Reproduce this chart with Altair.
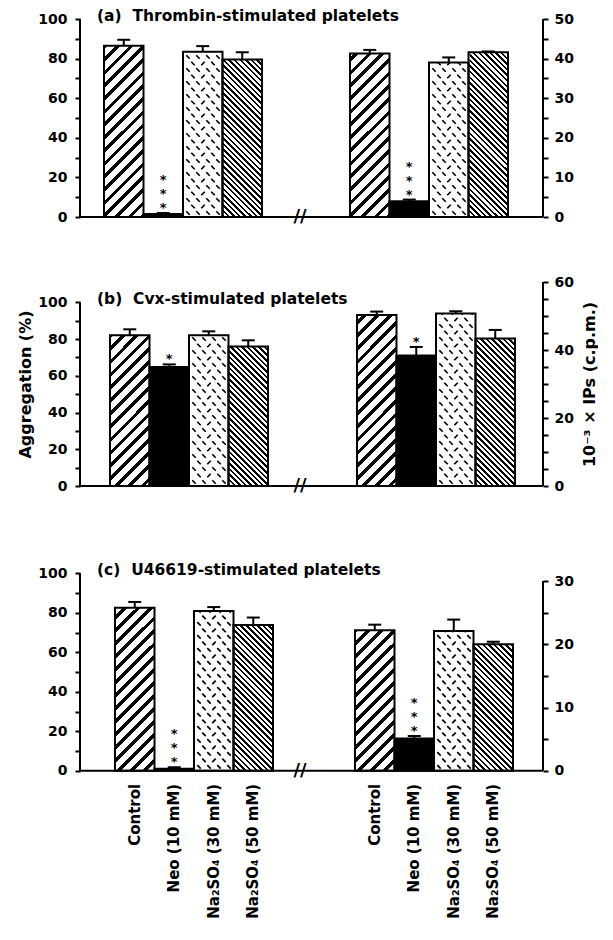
import altair as alt
import pandas as pd

# ---------------- data ----------------
CONDITIONS = ["Control", "Neo (10 mM)", "Na\u2082SO\u2084 (30 mM)", "Na\u2082SO\u2084 (50 mM)"]
PANEL_TITLES = [
    "(a)\u00a0\u00a0Thrombin-stimulated platelets",
    "(b)\u00a0\u00a0Cvx-stimulated platelets",
    "(c)\u00a0\u00a0U46619-stimulated platelets",
]
LEFT_TITLE = "Aggregation (%)"
RIGHT_TITLE = "10\u207b\u00b3 \u00d7 IPs (c.p.m.)"

# aggregation (%) - left group of each panel
AGG_MEAN = [[86.5, 1.5, 83.4, 79.5], [82.0, 64.8, 82.0, 75.9], [82.6, 1.1, 80.9, 73.8]]
AGG_SEM = [[3.0, 0.5, 2.9, 3.7], [3.3, 1.4, 2.2, 3.4], [2.9, 0.7, 2.0, 3.8]]
AGG_SIG = [["", "***", "", ""], ["", "*", "", ""], ["", "***", "", ""]]
# 10^-3 x IPs (c.p.m.) - right group of each panel
IPS_MEAN = [[41.3, 4.0, 39.0, 41.6], [50.3, 38.4, 50.7, 43.4], [22.2, 5.1, 22.1, 20.0]]
IPS_SEM = [[0.9, 0.4, 1.3, 0.2], [1.0, 2.5, 0.7, 2.5], [0.9, 0.4, 1.8, 0.4]]
IPS_SIG = [["", "***", "", ""], ["", "*", "", ""], ["", "***", "", ""]]

AGG_AXIS_MAX = 100
AGG_LABEL_STEP = 20
IPS_AXIS_MAX = [50, 60, 30]
IPS_LABEL_STEP = [10, 20, 10]

# ---------------- layout ----------------
FONT = "DejaVu Sans"
W = 463
BW = 39.5
PLOT_H = [198, 204, 219.8]
LEFT_SPAN = [198, 183.7, 197.5]     # px from 0 to 100 on left axis
RIGHT_SPAN = [198, 204, 189.8]      # px from 0 to max on right axis
STARTS = [(24, 270), (30, 277), (35, 275)]
BREAK_X = 220
CAP = 6.5
SPACING = 65
STAR_GAP = 9
STAR_STEP = 14


def hatch_gradient(w, h, period, black, direction):
    L = w + h
    k = w * (w + h) / (w * w + h * h)
    if direction == "/":
        x1, y1, x2, y2 = 0, 0, k, k * h / w
    else:
        x1, y1, x2, y2 = 0, 1, k, 1 - k * h / w
    stops = []
    s = 0.0
    while s < L:
        a = round(s / L, 5)
        b = round(min((s + black) / L, 1.0), 5)
        stops += [
            alt.GradientStop(offset=a, color="white"),
            alt.GradientStop(offset=a, color="black"),
            alt.GradientStop(offset=b, color="black"),
            alt.GradientStop(offset=b, color="white"),
        ]
        s += period
    return alt.LinearGradient(gradient="linear", stops=stops,
                              x1=round(x1, 5), y1=round(y1, 5), x2=round(x2, 5), y2=round(y2, 5))


def label_expr(step):
    return "datum.value % " + str(step) + " == 0 ? datum.label : ''"


def panel(p):
    H = PLOT_H[p]
    LD = AGG_AXIS_MAX * H / LEFT_SPAN[p]
    RD = IPS_AXIS_MAX[p] * H / RIGHT_SPAN[p]
    UPP = LD / H  # plot units per pixel

    rows = []
    stars = []
    groups = [(AGG_MEAN[p], AGG_SEM[p], AGG_SIG[p], 1.0),
              (IPS_MEAN[p], IPS_SEM[p], IPS_SIG[p], LD / RD)]
    for g, (means, sems, sigs, fac) in enumerate(groups):
        for i, cond in enumerate(CONDITIONS):
            x0 = STARTS[p][g] + i * BW
            rows.append(dict(cond=cond, i=i, g=g, value=means[i], sem=sems[i], factor=fac,
                             x0=x0, x1=x0 + BW, xc=x0 + BW / 2,
                             cl=x0 + BW / 2 - CAP, cr=x0 + BW / 2 + CAP,
                             kl=x0 - 1, kr=x0 + BW + 1, zero=0))
            for k, ch in enumerate(sigs[i]):
                stars.append(dict(xc=x0 + BW / 2, value=means[i], sem=sems[i],
                                  factor=fac, k=k, s=ch))
    df = pd.DataFrame(rows)
    sdf = pd.DataFrame(stars)

    xs = alt.Scale(domain=[0, W], nice=False, zero=False)
    ysc = alt.Scale(domain=[0, LD], nice=False, zero=False)

    def X(f):
        return alt.X(f, type="quantitative", scale=xs, axis=None)

    def Y(f):
        return alt.Y(f, type="quantitative", scale=ysc, axis=None)

    base = alt.Chart(df).transform_calculate(
        yv="datum.value * datum.factor",
        ye="(datum.value + datum.sem) * datum.factor",
    )

    g_ctrl = hatch_gradient(BW, H, 13.0, 4.8, "/")
    g_dense = hatch_gradient(BW, H, 5.6, 2.5, "\\")

    layers = []
    layers.append(base.transform_filter("datum.i == 0").mark_bar(fill=g_ctrl, strokeWidth=0).encode(
        x=X("x0"), x2=alt.X2("x1"), y=Y("zero"), y2=alt.value(0)))
    layers.append(base.transform_filter("datum.i == 3").mark_bar(fill=g_dense, strokeWidth=0).encode(
        x=X("x0"), x2=alt.X2("x1"), y=Y("zero"), y2=alt.value(0)))

    # dashed texture for Na2SO4 (30 mM)
    lat = []
    for g in (0, 1):
        x0 = STARTS[p][g] + 2 * BW
        r = 0
        ypx = 4.0
        while ypx < H - 4:
            offs = [5, 15, 25, 35] if r % 2 == 0 else [10, 20, 30]
            for j, o in enumerate(offs):
                kind = "f" if (r % 2 == 1 and j % 2 == 1) else "b"
                lat.append(dict(lx=x0 + o, ly=ypx * UPP, kind=kind))
            ypx += 6.5
            r += 1
    ldf = pd.DataFrame(lat)
    layers.append(alt.Chart(ldf).transform_filter("datum.kind == 'b'").mark_point(
        shape="M-1,-1L1,1", filled=False, stroke="black", strokeWidth=1.7, size=12, opacity=1).encode(
        x=X("lx"), y=Y("ly")))
    layers.append(alt.Chart(ldf).transform_filter("datum.kind == 'f'").mark_point(
        shape="M-1,1L1,-1", filled=False, stroke="black", strokeWidth=1.7, size=12, opacity=1).encode(
        x=X("lx"), y=Y("ly")))

    # white covers above each patterned bar
    layers.append(base.transform_filter("datum.i != 1").mark_bar(fill="white", strokeWidth=0).encode(
        x=X("kl"), x2=alt.X2("kr"), y=Y("yv"), y2=alt.value(0)))

    # outlines and black bars
    layers.append(base.transform_filter("datum.i != 1").mark_bar(
        fill="white", fillOpacity=0, stroke="black", strokeWidth=2).encode(
        x=X("x0"), x2=alt.X2("x1"), y=Y("zero"), y2=alt.Y2("yv")))
    layers.append(base.transform_filter("datum.i == 1").mark_bar(
        fill="black", stroke="black", strokeWidth=2).encode(
        x=X("x0"), x2=alt.X2("x1"), y=Y("zero"), y2=alt.Y2("yv")))

    # error bars
    layers.append(base.mark_rule(strokeWidth=2, color="black").encode(
        x=X("xc"), y=Y("yv"), y2=alt.Y2("ye")))
    layers.append(base.mark_rule(strokeWidth=2, color="black").encode(
        x=X("cl"), x2=alt.X2("cr"), y=Y("ye")))

    # significance stars
    layers.append(alt.Chart(sdf).transform_calculate(
        ys="(datum.value + datum.sem) * datum.factor + (%g + datum.k * %g) * %g" % (STAR_GAP, STAR_STEP, UPP)
    ).mark_text(font=FONT, fontSize=13, fontWeight="bold", baseline="middle", dy=4,
                color="black").encode(x=X("xc"), y=Y("ys"), text="s:N"))

    # baseline and axis break
    one = pd.DataFrame({"zero": [0], "bx": [BREAK_X], "t": ["//"], "tx": [17],
                        "ty": [AGG_AXIS_MAX], "title": [PANEL_TITLES[p]]})
    layers.append(alt.Chart(one).mark_rule(strokeWidth=2, color="black").encode(
        x=alt.value(0), x2=alt.value(W), y=Y("zero")))
    layers.append(alt.Chart(one).mark_text(font=FONT, fontSize=18, fontWeight="bold",
                                           color="black").encode(
        x=X("bx"), y=Y("zero"), text="t:N"))
    layers.append(alt.Chart(one).mark_text(font=FONT, fontSize=15.5, fontWeight="bold", align="left",
                                           baseline="alphabetic", dy=2, color="black").encode(
        x=X("tx"), y=Y("ty"), text="title:N"))

    if p == 2:
        layers.append(alt.Chart(df).mark_text(font=FONT, fontSize=15, fontWeight="bold", angle=270,
                                              align="right", baseline="middle", color="black").encode(
            x=X("xc"), y=alt.value(H + 13), text="cond:N"))

    inner = alt.layer(*layers)

    lax = dict(orient="left", values=list(range(0, AGG_AXIS_MAX + 1, 10)),
               labelExpr=label_expr(AGG_LABEL_STEP),
               domain=False, grid=False, tickSize=5, tickWidth=2, tickColor="black",
               labelPadding=8, titlePadding=4, title=LEFT_TITLE if p == 1 else None)
    left_axis = alt.Chart(pd.DataFrame({"lo": [0], "hi": [AGG_AXIS_MAX]})).mark_rule(
        strokeWidth=2, color="black").encode(
        x=alt.value(0),
        y=alt.Y("lo:Q", scale=alt.Scale(domain=[0, LD], nice=False, zero=False), axis=alt.Axis(**lax)),
        y2=alt.Y2("hi"))

    rax = dict(orient="right", values=list(range(0, IPS_AXIS_MAX[p] + 1, 5)),
               labelExpr=label_expr(IPS_LABEL_STEP[p]),
               domain=False, grid=False, tickSize=5, tickWidth=2, tickColor="black",
               labelPadding=6, titlePadding=8, titleAngle=270, titleBaseline="top",
               title=RIGHT_TITLE if p == 1 else None)
    right_axis = alt.Chart(pd.DataFrame({"lo": [0], "hi": [IPS_AXIS_MAX[p]]})).mark_rule(
        strokeWidth=2, color="black").encode(
        x=alt.value(W),
        y=alt.Y("lo:Q", scale=alt.Scale(domain=[0, RD], nice=False, zero=False), axis=alt.Axis(**rax)),
        y2=alt.Y2("hi"))

    return alt.layer(inner, left_axis, right_axis).resolve_scale(y="independent").properties(
        width=W, height=H)


chart = alt.vconcat(panel(0), panel(1), panel(2), spacing=SPACING, bounds="flush").properties(
    padding={"left": 17, "top": 8, "right": 0, "bottom": 0},
    background="white",
).configure_view(stroke="transparent").configure_axis(
    labelFont=FONT, labelFontSize=14, labelFontWeight="bold", labelColor="black",
    titleFont=FONT, titleFontSize=16, titleFontWeight="bold", titleColor="black",
)

chart.save("out.html", embed_options={"renderer": "svg", "actions": False})
